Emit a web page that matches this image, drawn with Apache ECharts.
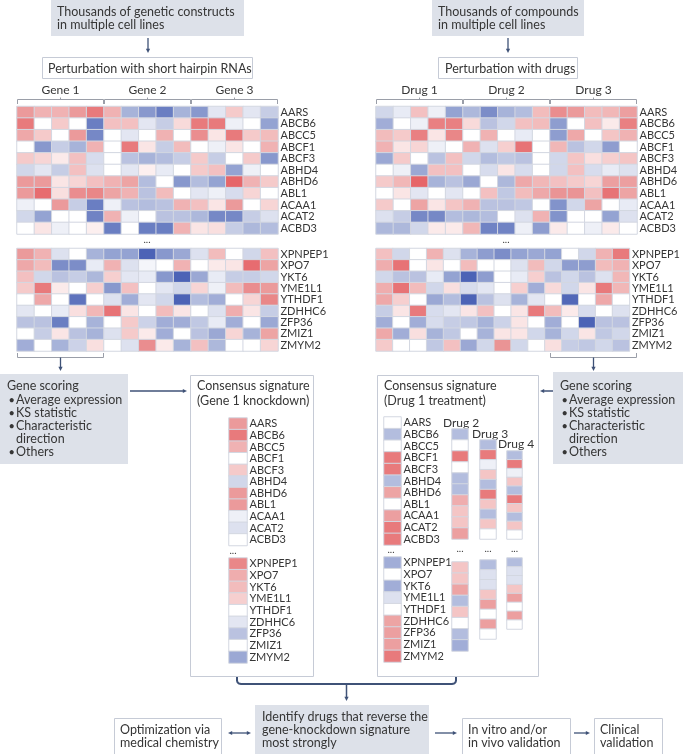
<!DOCTYPE html>
<html><head><meta charset="utf-8">
<script src="https://cdn.jsdelivr.net/npm/echarts@6/dist/echarts.min.js"></script>
<style>html,body{margin:0;padding:0;background:#fff}#c{width:683px;height:754px}</style>
</head><body><div id="c"></div>
<script>
// ---------------- DATA ----------------
const rowsTop = ['AARS','ABCB6','ABCC5','ABCF1','ABCF3','ABHD4','ABHD6','ABL1','ACAA1','ACAT2','ACBD3'];
const rowsBottom = ['XPNPEP1','XPO7','YKT6','YME1L1','YTHDF1','ZDHHC6','ZFP36','ZMIZ1','ZMYM2'];
const samples15 = ['s1','s2','s3','s4','s5','s6','s7','s8','s9','s10','s11','s12','s13','s14','s15'];
const geneGroups = ['Gene 1','Gene 2','Gene 3'];
const drugGroups = ['Drug 1','Drug 2','Drug 3'];
const extraDrugs = ['Drug 2','Drug 3','Drug 4'];

// shRNA perturbation (rows x 15 samples)
const shTop = [
 [2,1.5,1.5,2,2.5,1.5,-1.5,-2,-2.5,-1.5,-2,-0.5,1,-0.5,-1],
 [2.5,0,1,0,-2.5,1.2,1.2,-0.5,-1,0.7,2.5,2.5,-0.3,0,-1.8],
 [1.7,1,0,2,-2.3,0,-0.5,0,1.5,0,2.2,0.5,2.5,1,1.3],
 [0,-2,-1,-1.5,1.5,0,2.5,0.5,-1,1.3,0,-0.3,0.5,0,1.5],
 [1,0.8,0.4,1.2,-0.7,0,-1.2,-1.5,-1.3,-1,1,-1,0,1,-2],
 [-0.8,-0.5,-1,1.2,-0.6,0,-0.5,0.3,-0.4,0,1,1.2,-1.8,-0.3,0],
 [2,2,0.5,0.8,1.2,1.5,1.8,-1.3,0,-2,-1.3,-1.8,2.8,1.5,1],
 [2,2.7,0.6,2.2,2.3,1.8,1.5,-1.2,1.3,0,-0.5,-0.3,-0.7,0.8,0],
 [-0.3,0,2,-1,-2.5,-0.3,-1.2,-1.3,-1.2,1.5,1.2,0.5,2,0,0.8],
 [-0.8,-1.8,0,0,-2.4,1.5,-0.3,0,-1.2,-1.2,-1.4,-2.3,-2.3,-1,-0.6],
 [0,0.5,-0.3,0,0.3,-2.5,0,-2.5,-2.5,1.5,0.5,0.6,-1,-1.4,-1.3]
];
const shBottom = [
 [2,1.5,-0.6,0,-1.5,-1.8,-1.8,-3,-2,-1.7,-0.6,1.3,0,-0.8,1.2],
 [1.7,1.3,-2.2,-2.2,-0.4,1.5,-0.6,-0.2,0,1.5,0,0.4,0.5,2.7,1.8],
 [1.2,-0.8,-1.2,-1,-1.4,0.9,-0.5,-0.4,-2,-3,-1.7,-0.4,-1,-1,-0.8],
 [1,2.5,0.4,0,0.9,-2,1.2,0,-0.5,-0.8,0.8,-0.3,1.3,2.2,2],
 [0,1.7,0,-2.7,0,-0.6,-1.6,-0.5,-0.8,-3,-1.3,-1.6,0,0.8,2.3],
 [-0.5,0,-0.4,0.6,1.4,2.6,0.5,0,1.3,0.5,0,-0.6,1.6,0.5,-1],
 [-1.2,-1.2,-2.5,0,-1.5,0,1,-0.9,-1.6,-1.6,-1.1,-0.4,-1.6,0,-1.7],
 [0,-1,0.5,-1.2,-1.5,-0.6,1,0.4,-1.6,0,-1.2,-1.7,0.8,-1.5,1.8],
 [-1.6,0,-1.5,-0.9,0.6,0,-0.6,2.2,0.4,-1.5,1.2,-1.4,0,0,0.8]
];
// drug perturbation (rows x 15 samples)
const drugTop = [
 [-0.8,-0.4,1.2,-0.3,-1.8,-1.4,-2.2,-1.5,-1.3,1.3,2.2,2,1.3,1.4,1.9],
 [-1.6,0,-0.3,2.4,2.4,0.7,-1.2,-0.8,1.2,1.3,-1.9,0,1.2,0.4,2.4],
 [1.3,1,2.4,0.5,2.3,0,1.5,0,-0.4,0,-1.9,1.7,0,1.1,1.5],
 [1.5,0.5,0.8,-0.3,0,1.5,-0.6,0.9,2.6,0,1.4,-1.2,-0.8,-1.9,0],
 [-1.7,1,0,-1.2,1.2,-0.8,-1.3,-1.1,-1.2,0,-0.8,1.1,0.6,0.9,1.1],
 [0,-0.3,-1.7,1.2,1.2,0,-0.7,0.5,-0.7,0,-0.8,1.2,-0.7,-0.4,-0.6],
 [1,1.4,2.8,-1.5,-1.2,-1.7,0,-1.4,1.7,1.4,1.2,1,0.8,1.9,1.9],
 [0,0.5,-0.5,0,-0.5,0,1.2,-1.1,1.3,1.7,2.1,2.1,1.2,2.6,1.8],
 [1,0,1.8,0.5,1.1,1.5,-1.2,-1.2,-1.1,0,-2.1,-0.8,1.8,0,-0.4],
 [-0.6,-1,-2.3,-2.3,-1.3,-1.4,-1.3,0,-0.6,1.5,-2.1,0,0,-1.8,-0.6],
 [-1.4,-1.4,-0.8,0.4,0.4,1.4,-2.4,-2.4,-0.3,-1.9,0.4,0,-0.3,0.4,0]
];
const drugBottom = [
 [1.2,-0.8,0,1.5,-0.6,-1.5,-1.9,-2.2,-1.8,-1.7,-1.8,0,-0.8,1.5,2.5],
 [1.6,2.6,0,0.5,0,1.3,0,0,-0.6,1.3,-0.8,-1.9,-1.9,1.3,1.5],
 [-0.8,-1.2,-1.2,-0.4,-1.8,-3,-1.9,0,-0.4,0.9,-1.2,-0.8,-1.2,-0.6,1.4],
 [1.6,2.6,1.3,-0.8,0.6,-0.7,-0.5,0,0.9,-1.6,0.7,-0.8,0.5,2.5,1.4],
 [1.7,0.9,0,-1.7,-1.3,-3,-1.2,-0.6,-1.5,-0.5,0,-2.9,0,1.7,0],
 [-1,0.5,2.5,-0.7,-0.5,0.5,1.2,0,0.5,2.5,1.3,0.4,-0.7,0,-0.6],
 [-1.6,0,-1.6,-0.7,-1,-1.1,-1.5,-0.9,0.5,0,-1.6,0,-3,-1.2,-1.2],
 [1.7,-1.6,0.6,-1.5,-1.1,0,-1.5,0.5,0.5,-0.8,-1.5,-0.8,0.5,-1.1,-0.8],
 [1,0,0,-1.1,1.2,-1.7,-0.8,2.1,-0.8,0,0.6,-1,-1.1,-0.8,-1.2]
];
// consensus signatures
const gene1Top = [2,2.5,1.5,0,1,-0.8,2,2,-0.3,-0.6,0];
const gene1Bottom = [2.3,1.6,1.3,0.9,0,-0.5,-1.2,0,-1.7];
const drug1Top = [0,-1.3,0,2.5,2.5,-1.3,1.8,0,1.9,2.5,2.5];
const drug1Bottom = [-1.6,0,-1.6,-0.6,0,1.8,1.9,1.9,2.5];
const drug2Top = [-1.3,0,2.5,0,-1.3,-1.3,1.6,1.1,1.1,1.9];
const drug2Bottom = [1.1,1.1,1.8,-1.3,1.1,0,-1.3,-1.6];
const drug3Top = [-1.3,2.5,-0.3,1.1,-1.3,2.5,1.1,-1.3,1.1,0];
const drug3Bottom = [-1.3,-0.6,-0.6,1.1,1.9,0,1.9,0];
const drug4Top = [-1.3,2.5,-0.3,1.1,-1.3,2.5,1.1,-1.3,1.1,0];
const drug4Bottom = [-1.3,-0.6,-0.6,1.1,1.9,0,1.9,0];

// ---------------- LAYOUT ----------------
const FONT = 'Lato, "Open Sans", sans-serif';
const TXT = '#363636';
const ARROW = '#3f5277';
const GRAYBOX = '#dde1e9';
const BORDER = '#c6cbd6';

function cells(matrix) {
  const d = [];
  matrix.forEach((row, r) => row.forEach((v, c) => d.push([c, r, v])));
  return d;
}
function col(arr) { return arr.map((v, r) => [0, r, v]); }

const panels = [
  {l:17,  t:106.5, w:261, h:127.5, x:samples15, y:rowsTop,    data:cells(shTop),    labels:true},
  {l:17,  t:248.5, w:261, h:102.5, x:samples15, y:rowsBottom, data:cells(shBottom), labels:true},
  {l:376, t:106.5, w:261, h:127.5, x:samples15, y:rowsTop,    data:cells(drugTop),  labels:true},
  {l:376, t:248.5, w:261, h:102.5, x:samples15, y:rowsBottom, data:cells(drugBottom), labels:true},
  {l:229, t:418,   w:18,  h:127.5, x:['g1'], y:rowsTop,    data:col(gene1Top),    labels:true},
  {l:229, t:558,   w:18,  h:105,   x:['g1'], y:rowsBottom, data:col(gene1Bottom), labels:true},
  {l:384, t:417,   w:17,  h:128,   x:['d1'], y:rowsTop,    data:col(drug1Top),    labels:true},
  {l:384, t:557,   w:17,  h:105,   x:['d1'], y:rowsBottom, data:col(drug1Bottom), labels:true},
  {l:452, t:429,   w:16,  h:110,   x:['d2'], y:rowsTop.slice(1),    data:col(drug2Top),    labels:false},
  {l:452, t:562,   w:16,  h:89,    x:['d2'], y:rowsBottom.slice(1), data:col(drug2Bottom), labels:false},
  {l:480, t:440,   w:16,  h:99,    x:['d3'], y:rowsTop.slice(1),    data:col(drug3Top),    labels:false},
  {l:480, t:560,   w:16,  h:79,    x:['d3'], y:rowsBottom.slice(1), data:col(drug3Bottom), labels:false},
  {l:507, t:451,   w:15,  h:88,    x:['d4'], y:rowsTop.slice(1),    data:col(drug4Top),    labels:false},
  {l:507, t:558,   w:15,  h:71,    x:['d4'], y:rowsBottom.slice(1), data:col(drug4Bottom), labels:false}
];

const grid = [], xAxis = [], yAxis = [], series = [];
panels.forEach((p, i) => {
  grid.push({left:p.l, top:p.t, width:p.w, height:p.h, containLabel:false});
  xAxis.push({type:'category', gridIndex:i, data:p.x, show:false});
  yAxis.push({type:'category', gridIndex:i, data:p.y, inverse:true, position:'right',
    axisLine:{show:false}, axisTick:{show:false}, splitLine:{show:false},
    axisLabel:{show:p.labels, interval:0, margin:2.5, fontSize:11, fontFamily:FONT, color:TXT}});
  series.push({type:'heatmap', xAxisIndex:i, yAxisIndex:i, data:p.data, silent:true,
    itemStyle:{borderColor:'#d3d7e1', borderWidth:1}});
});

// graphic helpers
const G = [];
function box(x, y, w, h, fill, stroke) {
  G.push({type:'rect', shape:{x, y, width:w, height:h}, style:{fill, stroke: stroke || null, lineWidth: stroke ? 1 : 0}, silent:true});
}
function text(t, x, y, size, align) {
  G.push({type:'text', style:{text:t, x, y, font: size + 'px ' + FONT, fill:TXT, textAlign: align || 'left', textVerticalAlign:'middle'}, silent:true});
}
function line(pts, color, w) {
  G.push({type:'polyline', shape:{points:pts}, style:{stroke:color, lineWidth:w, fill:null}, silent:true});
}
function head(x, y, dir, s) {
  s = s || 4;
  let pts;
  if (dir === 'down') pts = [[x - s*0.7, y - s*1.4], [x + s*0.7, y - s*1.4], [x, y]];
  if (dir === 'right') pts = [[x - s*1.4, y - s*0.7], [x - s*1.4, y + s*0.7], [x, y]];
  if (dir === 'left') pts = [[x + s*1.4, y - s*0.7], [x + s*1.4, y + s*0.7], [x, y]];
  G.push({type:'polygon', shape:{points:pts}, style:{fill:ARROW}, silent:true});
}

// top boxes
box(51, -1, 193, 37, GRAYBOX);
text('Thousands of genetic constructs', 57, 11.5, 12.5);
text('in multiple cell lines', 57, 25, 12.5);
line([[148, 38], [148, 50]], ARROW, 1.3); head(148, 53, 'down', 3);
box(42.5, 57.5, 210, 21, '#fff', BORDER);
text('Perturbation with short hairpin RNAs', 48, 68.5, 12.5);

box(432, -1, 152, 37, GRAYBOX);
text('Thousands of compounds', 438, 11.5, 12.5);
text('in multiple cell lines', 438, 25, 12.5);
line([[508, 38], [508, 50]], ARROW, 1.3); head(508, 53, 'down', 3);
box(438.5, 57.5, 139, 21, '#fff', BORDER);
text('Perturbation with drugs', 445, 68.5, 12.5);

// group brackets
function groupBrackets(x0, names) {
  const gw = 87;
  names.forEach((n, i) => {
    const a = x0 + i * gw + 0.5, b = x0 + (i + 1) * gw - 0.5;
    line([[a, 104], [a, 99.5], [b, 99.5], [b, 104]], '#9a9ea8', 1);
    line([[(a + b) / 2, 99.5], [(a + b) / 2, 97.5]], '#9a9ea8', 1);
    text(n, (a + b) / 2, 90.5, 12, 'center');
  });
}
groupBrackets(17, geneGroups);
groupBrackets(376, drugGroups);
text('...', 147, 240, 10, 'center');
text('...', 506, 240, 10, 'center');

// lower brackets and arrows
line([[17.5, 353], [17.5, 357.5], [103.5, 357.5], [103.5, 353]], '#9a9ea8', 1);
line([[60.5, 357.5], [60.5, 368]], ARROW, 1.3); head(60.5, 371, 'down', 3);
line([[550.5, 353], [550.5, 357.5], [636.5, 357.5], [636.5, 353]], '#9a9ea8', 1);
line([[593.5, 357.5], [593.5, 368]], ARROW, 1.3); head(593.5, 371, 'down', 3);

// gene scoring boxes
function scoring(x, y, w, h, tx) {
  box(x, y, w, h, GRAYBOX);
  text('Gene scoring', tx, 386, 12.5);
  const items = [['Average expression', 400], ['KS statistic', 413], ['Characteristic', 426], ['direction', 439, true], ['Others', 452]];
  items.forEach(it => {
    if (!it[2]) text('\u2022', tx + 1.5, it[1], 11);
    text(it[0], tx + 9, it[1], 12.5);
  });
}
scoring(-1, 374, 129, 90, 7);
scoring(553, 372, 131, 92, 560);

line([[130, 391], [183, 391]], ARROW, 1.5); head(187, 391, 'right', 3);
line([[553, 391], [544, 391]], ARROW, 1.5); head(540, 391, 'left', 3);

// consensus boxes
box(190.5, 375.5, 123, 301, '#fff', BORDER);
text('Consensus signature', 197, 386, 12.5);
text('(Gene 1 knockdown)', 197, 401, 12.5);
text('...', 233, 551, 10, 'center');

box(377.5, 375.5, 161, 301, '#fff', BORDER);
text('Consensus signature', 384, 386, 12.5);
text('(Drug 1 treatment)', 384, 401, 12.5);
text('...', 391, 550, 10, 'center');
text(extraDrugs[0], 443, 423, 12);
text(extraDrugs[1], 472, 434, 12);
text(extraDrugs[2], 498, 444, 12);
text('...', 460, 549, 10, 'center');
text('...', 488, 549, 10, 'center');
text('...', 514.5, 549, 10, 'center');

// bottom bracket (rounded corners)
line([[237, 677], [237, 680.5], [237.6, 682.5], [239, 683.6], [241, 684], [452, 684], [454, 683.6], [455.4, 682.5], [456, 680.5], [456, 677]], ARROW, 2);
line([[346.5, 684], [346.5, 697]], ARROW, 1.5); head(346.5, 701, 'down', 3);

// bottom row
box(255, 705, 174, 52, GRAYBOX);
text('Identify drugs that reverse the', 262, 716.5, 12.5);
text('gene-knockdown signature', 262, 729.5, 12.5);
text('most strongly', 262, 742.5, 12.5);

box(114.5, 718.5, 107, 40, '#fff', BORDER);
text('Optimization via', 120, 730, 12.5);
text('medical chemistry', 120, 743, 12.5);
line([[231, 733], [248, 733]], ARROW, 1.3); head(251, 733, 'right', 3); head(228, 733, 'left', 3);

line([[435, 733], [453, 733]], ARROW, 1.3); head(457, 733, 'right', 3);
box(462.5, 718.5, 108, 40, '#fff', BORDER);
text('In vitro and/or', 468, 730, 12.5);
text('in vivo validation', 468, 743, 12.5);

line([[574, 733], [586, 733]], ARROW, 1.3); head(590, 733, 'right', 3);
box(594.5, 718.5, 68, 40, '#fff', BORDER);
text('Clinical', 600, 730, 12.5);
text('validation', 600, 743, 12.5);

const chart = echarts.init(document.getElementById('c'), null, {renderer:'canvas'});
chart.setOption({
  animation:false,
  backgroundColor:'#fff',
  grid, xAxis, yAxis, series,
  visualMap:{show:false, type:'continuous', min:-3, max:3, seriesIndex:series.map((s,i)=>i),
    inRange:{color:['#4c63b6','#8898cd','#c6cde5','#ffffff','#f5caca','#eb9a9b','#e5595d']}},
  graphic:G
});
</script>
</body></html>
